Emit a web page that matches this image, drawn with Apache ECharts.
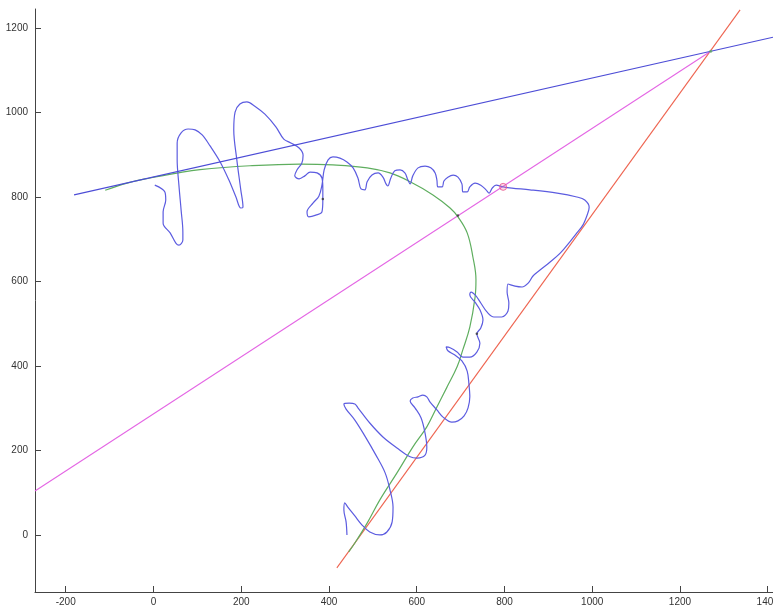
<!DOCTYPE html>
<html>
<head>
<meta charset="utf-8">
<script src="https://cdn.jsdelivr.net/npm/echarts@6/dist/echarts.min.js"></script>
<style>
  html, body { margin: 0; padding: 0; background: #ffffff; }
  #chart { width: 773px; height: 608px; }
</style>
</head>
<body>
<div id="chart"></div>
<script>
// Tick values for both axes
const xTicks = [-200, 0, 200, 400, 600, 800, 1000, 1200, 1400];
const yTicks = [0, 200, 400, 600, 800, 1000, 1200];

// Handwritten stroke (x, y)
const signature = [
  [3, 828], [26, 812], [28, 793], [22, 765], [22, 738], [38, 715], [51, 691], [58, 686],
  [67, 698], [67, 717], [63, 769], [58, 828], [54, 888], [54, 928], [63, 952], [79, 961],
  [95, 959], [111, 947], [129, 921], [152, 883], [172, 840], [188, 800], [199, 774], [204, 776],
  [199, 817], [190, 888], [183, 959], [186, 1001], [197, 1020], [213, 1025], [231, 1015], [254, 996],
  [279, 966], [297, 937], [313, 928], [332, 916], [341, 899], [338, 880], [327, 864], [322, 850],
  [332, 843], [345, 850], [357, 859], [373, 857], [384, 845], [386, 821], [386, 793], [384, 765],
  [370, 757], [354, 753], [350, 765], [364, 786], [377, 802], [384, 828], [389, 864], [398, 888],
  [409, 895], [425, 892], [441, 883], [455, 869], [466, 845], [473, 819], [482, 817], [487, 836],
  [498, 852], [512, 857], [523, 847], [530, 831], [534, 826], [541, 845], [550, 862], [562, 864],
  [573, 857], [580, 840], [585, 831], [591, 850], [603, 869], [619, 873], [632, 869], [642, 857],
  [646, 840], [648, 824], [658, 824], [662, 838], [671, 847], [683, 852], [694, 847], [703, 831],
  [705, 812], [715, 812], [721, 824], [733, 833], [746, 828], [758, 817], [765, 809], [772, 821],
  [781, 828], [797, 824], [817, 821], [858, 817], [920, 809], [965, 800], [983, 793], [993, 776],
  [990, 762], [979, 734], [965, 715], [949, 694], [927, 667], [904, 646], [881, 627], [865, 613],
  [854, 596], [840, 587], [824, 589], [808, 594], [806, 575], [810, 549], [808, 530], [794, 516],
  [776, 516], [760, 528], [746, 549], [735, 566], [724, 575], [721, 568], [733, 551], [744, 533],
  [751, 509], [746, 490], [737, 476], [744, 454], [737, 433], [721, 421], [705, 421], [692, 433],
  [676, 443], [667, 445], [671, 436], [687, 426], [703, 412], [715, 388], [719, 357], [721, 327],
  [717, 301], [708, 282], [694, 270], [680, 267], [660, 279], [646, 296], [630, 315], [623, 327],
  [614, 331], [603, 327], [591, 324], [585, 317], [596, 301], [610, 277], [619, 241], [623, 208],
  [619, 189], [601, 182], [585, 185], [555, 206], [523, 232], [493, 265], [466, 301], [459, 310],
  [446, 312], [434, 310], [439, 298], [459, 272], [482, 234], [507, 189], [528, 147], [539, 107],
  [546, 66], [544, 31], [532, 7], [516, 0], [493, 7], [475, 24], [459, 45], [443, 66],
  [436, 76], [434, 59], [439, 31], [441, 0]
];

// Fitted curve, touching the top line on the left and the right line at the bottom
const fittedCurve = [
  [-110, 816], [-60, 833], [-8, 845], [50, 856], [106, 865], [220, 874], [334, 878], [409, 876],
  [487, 869], [539, 857], [585, 836], [637, 805], [676, 774], [694, 753], [715, 715], [728, 658],
  [735, 604], [733, 563], [721, 492], [705, 438], [692, 398], [669, 350], [646, 303], [623, 256],
  [591, 208], [555, 147], [516, 83], [487, 28], [459, -19], [445, -40]
];

// Straight construction lines meeting at a common point
const topLine = [[-181, 805], [1412, 1178]];
const middleLine = [[-270, 104], [1270, 1145]];
const rightLine = [[418, -78], [1337, 1243]];

// Marked points
const circlePoint = [[797, 824]];
const crossPoints = [[694, 756], [386, 795], [737, 476]];
const meetPoint = [[1270, 1145]];

const chart = echarts.init(document.getElementById('chart'), null, { renderer: 'canvas' });

const axisFont = {
  color: '#333333',
  fontSize: 10,
  fontFamily: '"Liberation Sans Narrow", "Liberation Sans", Arial, sans-serif',
  formatter: function (v) { return String(v); },
  hideOverlap: false
};

function lineSeries(data, color, width, smooth) {
  return {
    type: 'line',
    data: data,
    showSymbol: false,
    smooth: smooth,
    lineStyle: { color: color, width: width },
    itemStyle: { color: color },
    silent: true,
    z: 2
  };
}

chart.setOption({
  animation: false,
  backgroundColor: '#ffffff',
  grid: { left: 35, right: 0, top: 9, bottom: 16, containLabel: false, outerBoundsMode: 'none' },
  xAxis: {
    type: 'value',
    min: -270,
    max: 1412,
    splitLine: { show: false },
    axisLine: { show: true, onZero: false, lineStyle: { color: '#444444', width: 1 } },
    axisTick: { show: true, inside: true, length: 6, customValues: xTicks, lineStyle: { color: '#444444' } },
    axisLabel: Object.assign({ customValues: xTicks, margin: 5, alignMaxLabel: 'center' }, axisFont)
  },
  yAxis: {
    type: 'value',
    min: -135,
    max: 1245,
    splitLine: { show: false },
    axisLine: { show: true, onZero: false, lineStyle: { color: '#444444', width: 1 } },
    axisTick: { show: true, inside: true, length: 6, customValues: yTicks, lineStyle: { color: '#444444' } },
    axisLabel: Object.assign({ customValues: yTicks, margin: 7 }, axisFont)
  },
  series: [
    lineSeries(rightLine, '#ee6450', 1.1, false),
    lineSeries(middleLine, '#e466e4', 1.1, false),
    lineSeries(fittedCurve, '#5fae5f', 1.2, 0.4),
    lineSeries(signature, '#5c5ce0', 1.2, 0.35),
    lineSeries(topLine, '#4c4cd6', 1.1, false),
    {
      type: 'scatter',
      data: circlePoint,
      symbol: 'circle',
      symbolSize: 7,
      itemStyle: { color: 'rgba(240,120,160,0.35)', borderColor: '#e8508a', borderWidth: 1 },
      silent: true,
      z: 3
    },
    {
      type: 'scatter',
      data: crossPoints,
      symbol: 'circle',
      symbolSize: 2.5,
      itemStyle: { color: '#333333' },
      silent: true,
      z: 3
    },
    {
      type: 'scatter',
      data: meetPoint,
      symbol: 'circle',
      symbolSize: 3,
      itemStyle: { color: '#5fae5f' },
      silent: true,
      z: 3
    }
  ]
});
</script>
</body>
</html>
